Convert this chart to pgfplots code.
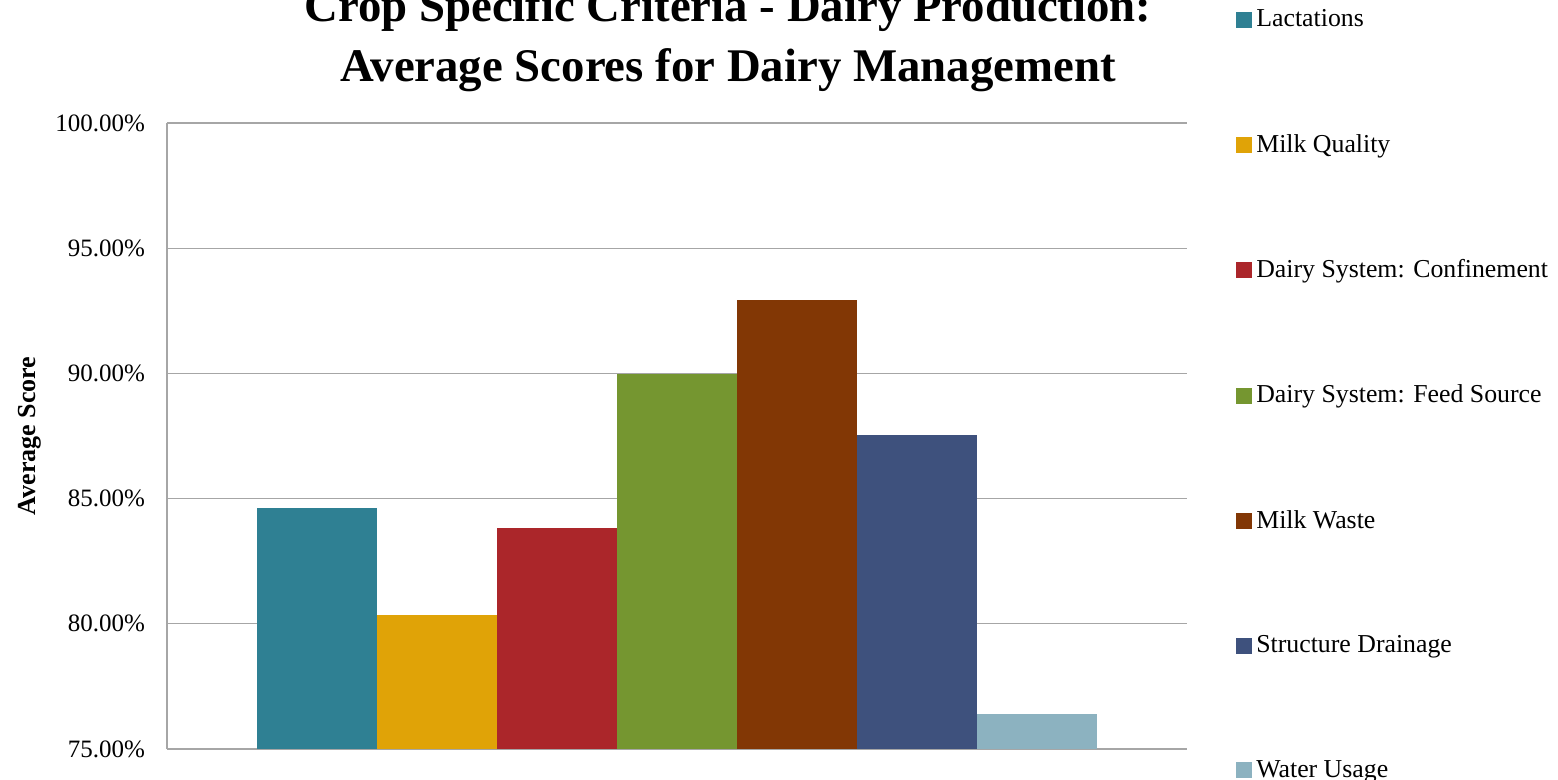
\documentclass[border=0pt]{standalone}
\usepackage{fontspec}
\setmainfont{Liberation Serif}
\usepackage{pgfplots}
\pgfplotsset{compat=1.18}
\definecolor{cLact}{RGB}{47,128,147}
\definecolor{cQual}{RGB}{224,163,7}
\definecolor{cConf}{RGB}{171,38,42}
\definecolor{cFeed}{RGB}{117,150,48}
\definecolor{cWaste}{RGB}{130,55,5}
\definecolor{cDrain}{RGB}{62,81,125}
\definecolor{cWater}{RGB}{140,178,192}
\definecolor{gridgray}{RGB}{166,166,166}

\begin{document}
\begin{tikzpicture}
\begin{axis}[
  name=ax, at={(0,0)}, anchor=south west,
  scale only axis, width=510pt, height=313pt,
  ybar, bar width=60pt, bar shift=0pt,
  xmin=-1.25, xmax=7.25,
  ymin=75, ymax=100, ytick={75,80,...,100},
  xtick=\empty,
  axis x line*=bottom, axis y line*=left,
  axis line style={gridgray, line width=0.6pt},
  separate axis lines,
  every outer y axis line/.append style={-},
  every outer x axis line/.append style={-},
  ymajorgrids, grid style={gridgray, line width=0.6pt},
  major tick length=0pt,
  /pgf/number format/assume math mode=true,
  yticklabel={\pgfmathprintnumber[fixed,fixed zerofill,precision=2]{\tick}\%},
  yticklabel style={font=\fontsize{12.5}{14}\selectfont, xshift=-7.5pt},
  ylabel={\textbf{Average Score}},
  ylabel style={font=\fontsize{13}{15}\selectfont, at={(axis description cs:-0.135,0.5)}, anchor=center},
  title={Crop Specific Criteria - Dairy Production:\\Average Scores for Dairy Management},
  title style={font=\bfseries\fontsize{23.4}{30}\selectfont, align=center, inner sep=0pt,
    at={(axis description cs:0.55,1)}, anchor=south, yshift=9.5pt},
  legend image code/.code={\fill[#1,draw=none] (0pt,-4pt) rectangle (8pt,4pt);},
  legend cell align=left,
  legend style={draw=none, fill=none, inner sep=0pt, row sep=48.2pt,
    font=\fontsize{12.9}{14}\selectfont,
    at={(rel axis cs:1.048,1.188)}, anchor=north west},
]
\addplot[fill=cLact, draw=none] coordinates {(0,84.64)};
\addplot[fill=cQual, draw=none] coordinates {(1,80.36)};
\addplot[fill=cConf, draw=none] coordinates {(2,83.84)};
\addplot[fill=cFeed, draw=none] coordinates {(3,89.96)};
\addplot[fill=cWaste, draw=none] coordinates {(4,92.92)};
\addplot[fill=cDrain, draw=none] coordinates {(5,87.52)};
\addplot[fill=cWater, draw=none] coordinates {(6,76.40)};
\legend{Lactations, Milk Quality, Dairy System: Confinement, Dairy System: Feed Source, Milk Waste, Structure Drainage, Water Usage}
\end{axis}
\pgfresetboundingbox
\path[use as bounding box] (-83.5pt,-15.5pt) rectangle (695.5pt,374.5pt);
\end{tikzpicture}
\end{document}
